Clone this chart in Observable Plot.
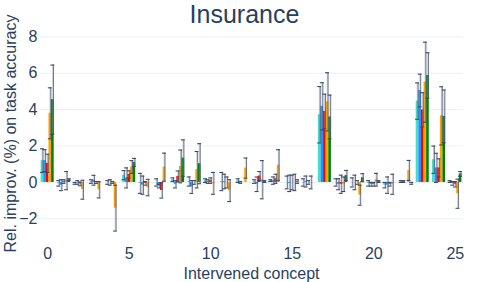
<!DOCTYPE html>
<html><head>
<meta charset="utf-8">
<script src="https://cdn.jsdelivr.net/npm/d3@7"></script>
<script src="https://cdn.jsdelivr.net/npm/@observablehq/plot@0.6"></script>
<style>body{margin:0;background:#fff}#chart{width:488px;height:282px}</style>
</head><body><div id="chart"></div>
<script>
const titleText = "Insurance";
const xLabel = "Intervened concept";
const yLabel = "Rel. improv. (%) on task accuracy";
const concepts = [0,1,2,3,4,5,6,7,8,9,10,11,12,13,14,15,16,17,18,19,20,21,22,23,24,25];
const xTicks = [0,5,10,15,20,25];
const yTicks = [-2,0,2,4,6,8];
const seriesNames = ["A","B","C","D","E"];
const seriesColors = ["#40E0D0","#1E90FF","#FF0000","#FFA500","#008000"];

const valA = [1.2,-0.05,-0.05,0.05,0,0.4,-0.05,0,0.15,0.05,0.1,0.05,0.1,0.05,0.1,0,0,3.72,0,0,-0.05,-0.15,0.05,4.47,1.25,0.05];
const errA = [0.65,0.15,0.05,0.1,0.1,0.25,0.55,0.2,0.1,0.25,0.1,0.5,0.1,0.1,0.05,0.35,0.2,1.55,0.2,0.25,0.15,0.15,0.05,1.0,0.75,0.05];
const valB = [1.2,-0.15,0,0.12,0,0.25,-0.15,-0.2,-0.1,-0.25,0.05,0.05,0,-0.1,0.1,-0.05,0.05,4.18,-0.1,0,-0.1,-0.15,0.05,5.05,0.8,-0.05];
const errB = [0.6,0.3,0.1,0.27,0.15,0.55,0.5,0.1,0.2,0.35,0.1,0.4,0.05,0.4,0.2,0.45,0.3,1.3,0.3,0.4,0.1,0.45,0.05,0.9,0.8,0.1];
const valC = [1.05,0.05,-0.08,0,0,0.44,-0.05,-0.44,0.33,0,0.1,0,0,0.35,0.2,0,0,3.9,-0.1,0,-0.1,-0.1,0,3.99,0.8,-0.1];
const errC = [0.5,0.1,0.1,0.05,0.05,0.2,0.1,0.42,0.3,0.1,0.15,0.3,0,0.25,0.25,0.4,0.1,0.95,0.5,0.1,0.1,0.1,0,0.94,0.5,0.15];
const valD = [3.8,0.1,-0.4,-0.4,-1.41,0.85,-0.28,0.84,0.88,0.7,-0.05,-0.45,0.79,0.15,0.95,0,0,4.43,-0.1,-0.7,0.15,-0.1,0.66,5.51,3.66,-0.62];
const errD = [1.4,0.5,0.52,0.45,1.26,0.35,0.45,0.77,0.9,1.0,0.6,0.6,0.55,1.05,0.85,0.45,0.35,1.6,0.4,0.55,0.35,0.55,0.55,2.2,1.6,0.8];
const valE = [4.55,0.15,0,0,0,1.1,0,0,1.34,1.03,0,0,0,0.05,0,0.05,0,3.6,0.38,0.26,0.05,0,-0.05,5.88,3.63,0.47];
const errE = [1.9,0.05,0,0,0,0.22,0,0,1.0,1.1,0,0,0,0.05,0,0.1,0,1.2,0.28,0.22,0.05,0,0.05,1.25,1.45,0.13];

const values = [valA,valB,valC,valD,valE];
const errors = [errA,errB,errC,errD,errE];
const n = seriesNames.length;
const groupW = 0.8, barW = groupW / n;
const rows = concepts.flatMap((c,i) => seriesNames.map((s,j) => ({
  c, s, j, v: values[j][i], e: errors[j][i],
  x1: c - groupW/2 + j*barW, x2: c - groupW/2 + (j+1)*barW, xc: c - groupW/2 + (j+0.5)*barW
})));
const errRows = rows.filter(d => d.e > 0);

const font = "'Liberation Sans', Arial, sans-serif";
const ink = "#2a3f5f";
const errInk = "#3b4a63";

const chart = Plot.plot({
  width: 488, height: 282,
  marginLeft: 39, marginRight: 25, marginTop: 28, marginBottom: 44,
  style: {fontFamily: font, fontSize: "16px", color: ink, background: "#fff"},
  x: {domain: [-0.5, 25.5]},
  y: {domain: [-3.08, 8.46]},
  color: {domain: seriesNames, range: seriesColors},
  marks: [
    Plot.gridY(yTicks, {stroke: "#ebf0f8", strokeOpacity: 1, strokeWidth: 1}),
    Plot.rectY(rows, {x1: "x1", x2: "x2", y1: 0, y2: "v", fill: "s", inset: 0}),
    Plot.ruleX(errRows, {x: "xc", y1: d => d.v - d.e, y2: d => d.v + d.e, stroke: "#8d97a8", strokeOpacity: 0.45, strokeWidth: 1.6}),
    Plot.ruleX(errRows, {x: "xc", y1: d => d.v - d.e, y2: d => d.v + d.e, stroke: errInk, strokeOpacity: 0.85, strokeWidth: 0.8, dx: 0.6}),
    Plot.ruleY(errRows, {y: d => d.v + d.e, x1: d => d.xc - 0.12, x2: d => d.xc + 0.12, stroke: errInk, strokeWidth: 1.1}),
    Plot.ruleY(errRows, {y: d => d.v - d.e, x1: d => d.xc - 0.12, x2: d => d.xc + 0.12, stroke: errInk, strokeWidth: 1.1}),
    Plot.axisY(yTicks, {tickSize: 0, tickPadding: 2, fontSize: 16, fill: ink, tickFormat: d => d < 0 ? "\u2212" + Math.abs(d) : d,
      label: yLabel, labelAnchor: "center", labelArrow: "none", labelOffset: 35}),
    Plot.axisX(xTicks, {tickSize: 0, tickPadding: 9, fontSize: 16, fill: ink,
      label: xLabel, labelAnchor: "center", labelArrow: "none", labelOffset: 40}),
    Plot.text([titleText], {frameAnchor: "top", dy: -14, dx: -7, lineAnchor: "middle", text: d => d, fontSize: 25, fill: ink})
  ]
});
document.getElementById("chart").appendChild(chart);
</script>
</body></html>
